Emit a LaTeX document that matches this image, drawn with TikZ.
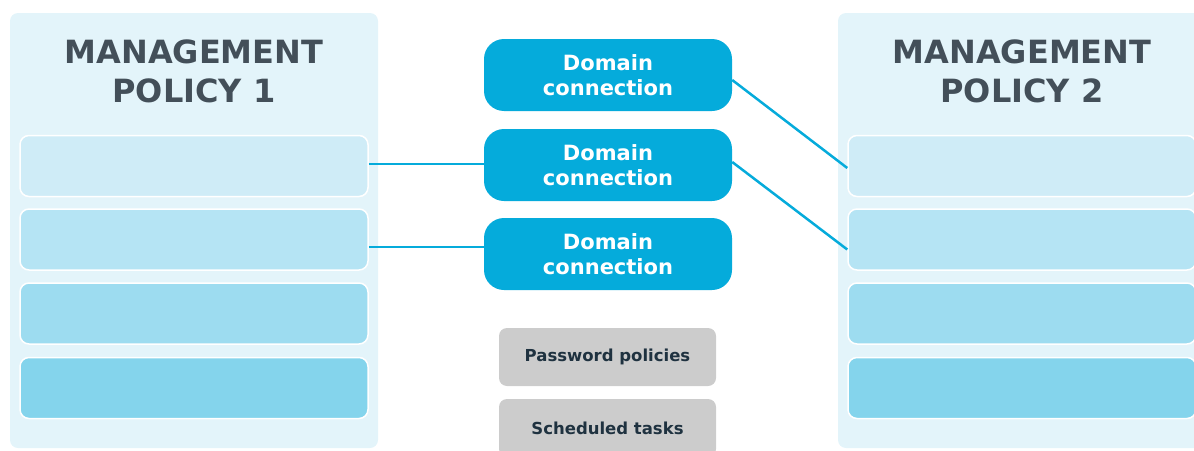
\documentclass[tikz,border=0pt]{standalone}
\usepackage{fontspec}
\setmainfont{DejaVu Sans}
\usetikzlibrary{calc}
\definecolor{panelbg}{HTML}{E3F4FA}
\definecolor{rowA}{HTML}{CFECF7}
\definecolor{rowB}{HTML}{B5E4F4}
\definecolor{rowC}{HTML}{9DDCF0}
\definecolor{rowD}{HTML}{84D4EC}
\definecolor{domblue}{HTML}{05ABDB}
\definecolor{titlegray}{HTML}{434F59}
\definecolor{boxgray}{HTML}{CCCCCC}
\definecolor{textdark}{HTML}{1F3240}
\tikzset{
	panel/.style={fill=panelbg, rounded corners=8pt, minimum width=368pt, minimum height=435pt, inner sep=0pt},
	ptitle/.style={align=center, inner sep=0pt, text=titlegray, font=\fontsize{32}{39}\selectfont\bfseries},
	rowbox/.style={draw=white, line width=1.5pt, rounded corners=9pt, minimum width=348pt, minimum height=61pt, inner sep=0pt},
	domconn/.style={fill=domblue, rounded corners=20pt, minimum width=248pt, minimum height=72pt, inner sep=0pt, align=center, text=white, font=\fontsize{21}{25}\selectfont\bfseries},
	extra/.style={fill=boxgray, rounded corners=8pt, minimum width=217pt, minimum height=58pt, inner sep=0pt, text=textdark, font=\fontsize{16.5}{20}\selectfont\bfseries},
	link/.style={draw=domblue, line width=2.5pt}
}
\begin{document}
\begin{tikzpicture}[x=1pt, y=-1pt]
			%%%%% START %%%%%
			\useasboundingbox (0, 0) rectangle (1194, 450);
			
			% policy panels
			\node[panel] (pol1) at (194, 230.5) {};
			\node[panel] (pol2) at (1022, 230.5) {};
			\node[ptitle] (title1) at (194, 71) {MANAGEMENT\\POLICY 1};
			\node[ptitle] (title2) at (1022, 71) {MANAGEMENT\\POLICY 2};
			
			\node[rowbox, fill=rowA] (lrowA) at (194, 166) {};
			\node[rowbox, fill=rowB] (lrowB) at (194, 239.5) {};
			\node[rowbox, fill=rowC] (lrowC) at (194, 313.5) {};
			\node[rowbox, fill=rowD] (lrowD) at (194, 388) {};
			
			\node[rowbox, fill=rowA] (rrowA) at (1022, 166) {};
			\node[rowbox, fill=rowB] (rrowB) at (1022, 239.5) {};
			\node[rowbox, fill=rowC] (rrowC) at (1022, 313.5) {};
			\node[rowbox, fill=rowD] (rrowD) at (1022, 388) {};
			
			% domain connections
			\node[domconn] (domA) at (608, 75) {Domain\\connection};
			\node[domconn] (domB) at (608, 165) {Domain\\connection};
			\node[domconn] (domC) at (608, 254) {Domain\\connection};
			
			\draw[link] ([yshift=2pt]lrowA.east) -- ([yshift=2pt]lrowA.east -| domB.west);
			\draw[link] ([yshift=-7.5pt]lrowB.east) -- ([yshift=-7.5pt]lrowB.east -| domC.west);
			\draw[link] ([yshift=-5pt]domA.east) -- ([yshift=-2pt]rrowA.west);
			\draw[link] ([yshift=3pt]domB.east) -- ([yshift=-10pt]rrowB.west);
			
			% other objects
			\node[extra] (pwd) at (607.5, 357) {Password policies};
			\node[extra] (tasks) at (607.5, 428) {Scheduled tasks};
			
			%%%%% END %%%%%
		\end{tikzpicture}
\end{document}
